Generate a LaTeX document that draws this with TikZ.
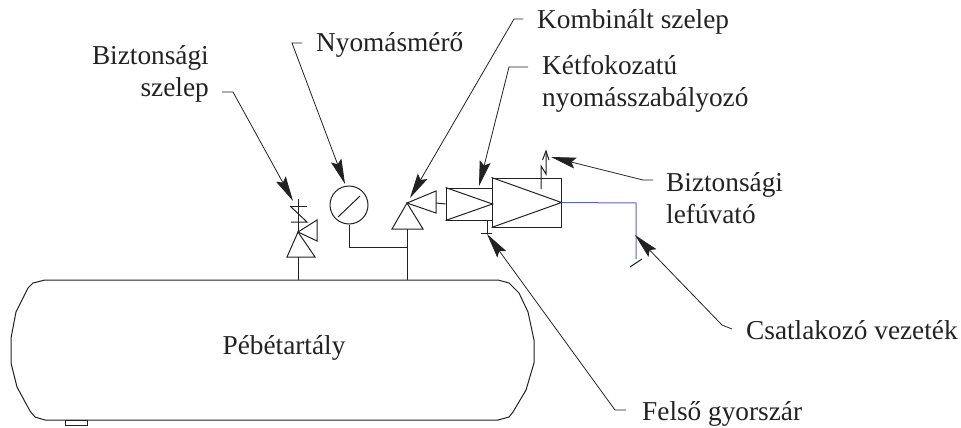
\documentclass[tikz,border=0pt]{standalone}
\usepackage{fontspec}
\setmainfont{Liberation Serif}
\usetikzlibrary{arrows.meta}
\definecolor{inkk}{HTML}{222222}
\definecolor{vezblue}{HTML}{5468B4}
\tikzset{
	lab/.style={inner sep=0pt,text=inkk,font=\fontsize{27.3}{32}\selectfont},
	sym/.style={draw=inkk,line width=1pt,line join=miter},
	leader/.style={draw=inkk,line width=0.8pt,-{Stealth[length=25pt,width=11pt,inset=4pt]}}
}
\begin{document}
\begin{tikzpicture}[x=1pt,y=-1pt]
		\useasboundingbox (0,0) rectangle (961,428);

		\node[lab,anchor=east,align=right] (bizt) at (209,74) {Biztonsági\\szelep};
		\node[lab,anchor=base west] (nyom) at (316,52) {Nyomásmérő};
		\node[lab,anchor=base west] (komb) at (537,29) {Kombinált szelep};
		\node[lab,anchor=west,align=left] (ketf) at (542,84) {Kétfokozatú\\nyomásszabályozó};
		\node[lab,anchor=west,align=left] (lefu) at (666,198) {Biztonsági\\lefúvató};
		\node[lab,anchor=base west] (csat) at (746,339) {Csatlakozó vezeték};
		\node[lab,anchor=base west] (fels) at (642,420) {Felső gyorszár};
		\node[lab,anchor=base] (peb) at (284,354) {Pébétartály};

		% tartaly
		\draw[sym] (45,280) -- (498,280) -- (509,283) -- (519,293) -- (528,312) -- (534,340) -- (534,363)
			-- (526,390) -- (513,412) -- (509,417) -- (498,420) -- (45,420) -- (35,417) -- (30,411)
			-- (17,387) -- (11,363) -- (11,338) -- (16,312) -- (28,288) -- (33,283) -- cycle;
		\draw[sym] (65,420) rectangle (87,425);
		\coordinate (cs1) at (298,280);
		\coordinate (cs2) at (407,280);

		% biztonsagi szelep
		\coordinate (bsz) at (298,232);
		\draw[sym] (bsz) -- (315,257) -- (287,257) -- cycle;
		\draw[sym] (bsz) -- (317,220) -- (317,241) -- cycle;
		\draw[sym] (298,199) -- (bsz);
		\draw[sym] (290,206) -- (307,206);
		\draw[sym] (290,206) -- (307,222) -- (291,222);
		\draw[sym] (298,257) -- (cs1);

		% nyomasmero
		\node[sym,circle,minimum size=38pt,inner sep=0pt] (gauge) at (349,205) {};
		\draw[sym] (338,217) -- (360,196);
		\draw[sym] (gauge.south) |- (407,247);

		% kombinalt szelep
		\coordinate (ksz) at (407,203);
		\draw[sym] (ksz) -- (423,229) -- (392,229) -- cycle;
		\draw[sym] (ksz) -- (436,191) -- (436,213) -- cycle;
		\draw[sym] (407,229) -- (cs2);

		% nyomasszabalyozo
		\node[sym,minimum width=46pt,minimum height=32pt,inner sep=0pt] (reg1) at (469,204) {};
		\node[sym,minimum width=69pt,minimum height=49pt,inner sep=0pt] (reg2) at (526.5,202.5) {};
		\draw[sym] (reg1.north west) -- (reg1.east) -- (reg1.south west);
		\draw[sym] (reg2.north west) -- (reg2.east) -- (reg2.south west);
		\draw[sym] (436,203) -- (reg1.west);
		\draw[sym] (541,189) -- (541,166) -- (546,174) -- (546,151);
		\draw[sym] (542.5,160) -- (546,151) -- (549,160);
		\draw[sym] (487,220) -- (487,233);
		\draw[sym] (481,233) -- (492,233);

		% vezetek
		\draw[sym,draw=vezblue] (reg2.east) -- (636,203) -- (636,259);
		\draw[sym] (630,267) -- (642,259);

		% mutatovonalak
		\coordinate (a1) at (293,201);
		\coordinate (a2) at (345,184);
		\coordinate (a3) at (410,198);
		\coordinate (a4) at (479,186);
		\coordinate (a5) at (551,157);
		\coordinate (a6) at (635,235);
		\coordinate (a7) at (487,234);
		\draw[leader] (222,92) -- (233,92) -- (a1);
		\draw[leader] (302,43) -- (292,43) -- (a2);
		\draw[leader] (523,19) -- (514,19) -- (a3);
		\draw[leader] (528,67) -- (509,67) -- (a4);
		\draw[leader] (653,180) -- (643,180) -- (a5);
		\draw[leader] (732,329) -- (722,325) -- (a6);
		\draw[leader] (626,410) -- (615,410) -- (a7);
		\end{tikzpicture}
\end{document}
